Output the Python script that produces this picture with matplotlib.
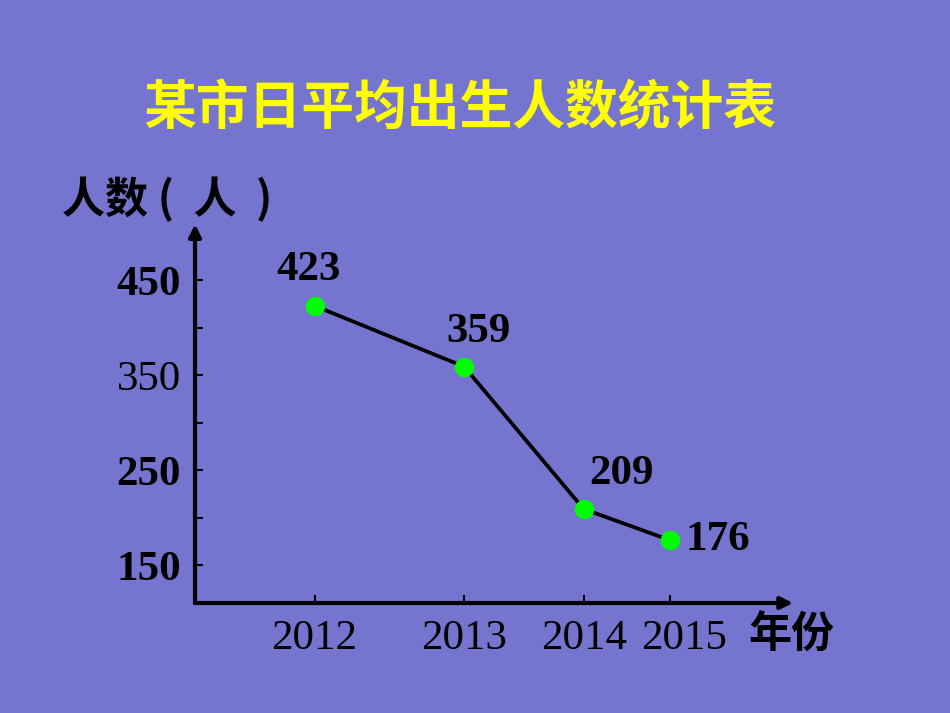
import matplotlib
matplotlib.use('Agg')
import matplotlib.pyplot as plt
from matplotlib.transforms import ScaledTranslation

# 数据
years = ['2012', '2013', '2014', '2015']
births = [423, 359, 209, 176]
x_pos = [2.0, 4.5, 6.5, 7.95]   # 原图年份间距不均匀
y_ticks = [150, 250, 350, 450]
y_minor = [200, 300, 400]

bg = '#7575CF'
cjk = ['Noto Sans CJK SC', 'DejaVu Sans']
serif = 'Liberation Serif'

fig = plt.figure(figsize=(9.5, 7.13), dpi=100, facecolor=bg)
ax = fig.add_axes([195/950, 1-603/713, 598/950, 375/713])
ax.set_facecolor(bg)
ax.set_xlim(0, 10)
ax.set_ylim(110, 505)
for s in ax.spines.values():
    s.set_visible(False)

# 坐标轴箭头
arr = dict(arrowstyle='-|>', color='black', lw=3, mutation_scale=18, shrinkA=0, shrinkB=0)
ax.annotate('', xy=(1, 0), xytext=(0, 0), xycoords='axes fraction', arrowprops=arr)
ax.annotate('', xy=(0, 1.01), xytext=(0, 0), xycoords='axes fraction', arrowprops=arr)

# 刻度
ax.set_yticks(y_ticks)
ax.set_yticks(y_minor, minor=True)
ax.set_yticklabels(y_ticks, fontsize=31, family=serif)
for lab, w in zip(ax.get_yticklabels(), ['bold', 'bold', 'normal', 'bold']):
    lab.set_fontweight(w)
ax.tick_params(axis='y', which='both', direction='in', length=6, width=1.5, pad=10, colors='black')

ax.set_xticks(x_pos)
ax.set_xticklabels(years, fontsize=31, family=serif)
ax.tick_params(axis='x', direction='in', length=6, width=1.5, pad=12, colors='black')
last = ax.get_xticklabels()[-1]
last.set_transform(last.get_transform() + ScaledTranslation(0.14, 0, fig.dpi_scale_trans))

# 折线和点
ax.plot(x_pos, births, color='black', lw=2.7, zorder=2)
ax.plot(x_pos, births, 'o', color='#00FF00', ms=13, zorder=3)

offsets = [(-4, 26), (10, 25), (27, 25), (11, 0)]
aligns = ['center', 'center', 'center', 'left']
for x, y, off, ha in zip(x_pos, births, offsets, aligns):
    ax.annotate(str(y), (x, y), xytext=off, textcoords='offset points',
                ha=ha, va='center', fontsize=31, fontweight='bold', family=serif)

# 标题和轴名
fig.text(460/950, 1-108/713, '某市日平均出生人数统计表', ha='center', va='center',
         fontsize=38, fontweight='bold', color='#FFFF00', family=cjk)
fig.text(62/950, 1-200/713, '人数 (  人  )', ha='left', va='center',
         fontsize=31, fontweight='bold', color='black', family=cjk)
fig.text(748/950, 1-635/713, '年份', ha='left', va='center',
         fontsize=31, fontweight='bold', color='black', family=cjk)

fig.savefig('out.png', dpi=100, facecolor=bg)
